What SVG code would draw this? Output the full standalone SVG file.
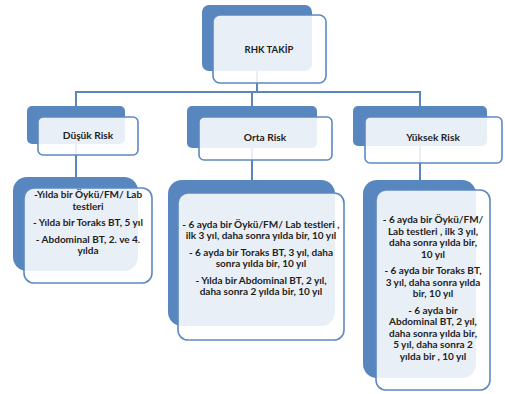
<svg xmlns="http://www.w3.org/2000/svg" width="505" height="394" viewBox="0 0 505 394">
<style>
.back{fill:#5886bf}
.front{fill:#ffffff;fill-opacity:.87;stroke:#5d89c0;stroke-width:1.6}
.conn{stroke:#5a86bb;stroke-width:2;fill:none}
text{font-family:Lato,"Open Sans","DejaVu Sans",sans-serif;font-weight:bold;fill:#1e1e1e;text-anchor:middle}
.h{font-size:10.2px}
.d{font-size:10px}
</style>
<rect width="505" height="394" fill="#ffffff"/>
<g id="connectors">
<path class="conn" d="M257 70 V92 M76 106 V92 H420 V106 M252 92 V106"/>
<path class="conn" d="M76 143 V178 M252 148 V181 M420 146 V181"/>
</g>
<g id="rhk">
<rect class="back" x="202" y="5" width="110" height="66" rx="7"/>
<rect class="front" x="213" y="15" width="113" height="68" rx="7"/>
<text class="h" x="269" y="53" style="font-size:9.5px">RHK TAKİP</text>
</g>
<g id="dusuk">
<rect class="back" x="27" y="106" width="98" height="38" rx="5"/>
<rect class="front" x="38" y="117" width="100" height="38" rx="5"/>
<text class="h" x="88" y="139">Düşük Risk</text>
</g>
<g id="orta">
<rect class="back" x="187" y="106" width="130" height="42" rx="5"/>
<rect class="front" x="199" y="117" width="133" height="43" rx="5"/>
<text class="h" x="265" y="141">Orta Risk</text>
</g>
<g id="yuksek">
<rect class="back" x="353" y="106" width="134" height="40" rx="5"/>
<rect class="front" x="365" y="117" width="137" height="46" rx="5"/>
<text class="h" x="433" y="141">Yüksek Risk</text>
</g>
<g id="dusuk-detay">
<rect class="back" x="13" y="177" width="125" height="94" rx="14"/>
<rect class="front" x="24" y="188" width="128" height="95" rx="10"/>
<text class="d" x="88" y="198">-Yılda bir Öykü/FM/ Lab</text>
<text class="d" x="88" y="209.5">testleri</text>
<text class="d" x="88" y="226">- Yılda bir Toraks BT, 5 yıl</text>
<text class="d" x="88" y="242.5">- Abdominal BT, 2. ve 4.</text>
<text class="d" x="88" y="254">yılda</text>
</g>
<g id="orta-detay">
<rect class="back" x="168" y="180" width="167" height="146" rx="14"/>
<rect class="front" x="178" y="193" width="166" height="147" rx="10"/>
<text class="d" x="261" y="227.5">- 6 ayda bir Öykü/FM/ Lab testleri ,</text>
<text class="d" x="261" y="239">ilk 3 yıl, daha sonra yılda bir, 10 yıl</text>
<text class="d" x="261" y="255.5">- 6 ayda bir Toraks BT, 3 yıl, daha</text>
<text class="d" x="261" y="267">sonra yılda bir, 10 yıl</text>
<text class="d" x="261" y="283.5">- Yılda bir Abdominal BT, 2 yıl,</text>
<text class="d" x="261" y="295">daha sonra 2 yılda bir, 10 yıl</text>
</g>
<g id="yuksek-detay">
<rect class="back" x="363" y="180" width="113" height="198" rx="14"/>
<rect class="front" x="376" y="190" width="114" height="200" rx="10"/>
<text class="d" x="433" y="223">- 6 ayda bir Öykü/FM/</text>
<text class="d" x="433" y="234.5">Lab testleri , ilk 3 yıl,</text>
<text class="d" x="433" y="246">daha sonra yılda bir,</text>
<text class="d" x="433" y="257.5">10 yıl</text>
<text class="d" x="433" y="274">- 6 ayda bir Toraks BT,</text>
<text class="d" x="433" y="285.5">3 yıl, daha sonra yılda</text>
<text class="d" x="433" y="297">bir, 10 yıl</text>
<text class="d" x="433" y="313.5">- 6 ayda bir</text>
<text class="d" x="433" y="325">Abdominal BT, 2 yıl,</text>
<text class="d" x="433" y="336.5">daha sonra  yılda bir,</text>
<text class="d" x="433" y="348">5 yıl, daha sonra 2</text>
<text class="d" x="433" y="359.5">yılda bir , 10 yıl</text>
</g>
</svg>
